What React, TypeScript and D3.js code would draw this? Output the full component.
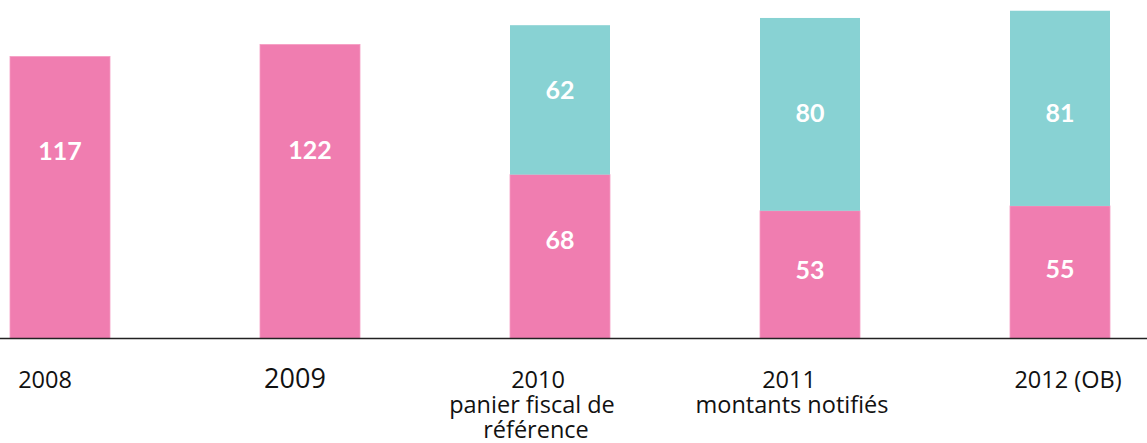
import React from "react";
import * as d3 from "d3";

const categories = ["2008", "2009", "2010", "2011", "2012 (OB)"];
const subtitleLine1 = ["", "", "panier fiscal de", "montants notifiés", ""];
const subtitleLine2 = ["", "", "référence", "", ""];
const pinkValues = [117, 122, 68, 53, 55];
const tealValues = [0, 0, 62, 80, 81];

// layout tweaks (pixels), not data
const pinkLabelDy = [-48, -42, -18, -6, -4];
const tealLabelDy = [0, 0, -11, -2, 4];
const tickDx = [-15, -15, -22, -21, 8];
const sub1Dx = [0, 0, -28, -18, 0];
const sub2Dx = [0, 0, -24, 0, 0];
const tickFont = [23.5, 27, 23.5, 23.5, 23.5];

const W = 1147;
const H = 443;
const BASE = 338.5;
const PINK = "#F07DB0";
const TEAL = "#88D2D3";

export default function App() {
  const x = d3
    .scaleBand<string>()
    .domain(categories)
    .range([0, 1120])
    .paddingInner(0.6)
    .paddingOuter(0.04);
  const y = d3.scaleLinear().domain([0, 140]).range([BASE, BASE - 140 * 2.41]);

  const valueFont = "Lato, 'Open Sans', sans-serif";
  const tickFontFamily = "'Open Sans', Lato, sans-serif";

  return (
    <div style={{ position: "absolute", left: 0, top: 0 }}>
      <svg width={W} height={H} style={{ display: "block", background: "#fff" }}>
        {categories.map((c, i) => {
          const x0 = x(c)!;
          const bw = x.bandwidth();
          const pTop = y(pinkValues[i]);
          const tTop = y(pinkValues[i] + tealValues[i]);
          return (
            <g key={c}>
              <rect x={x0} y={pTop} width={bw} height={BASE - pTop} fill={PINK} stroke="#F59CC3" strokeWidth={0.8} />
              {tealValues[i] > 0 && (
                <rect x={x0} y={tTop} width={bw} height={pTop - tTop} fill={TEAL} />
              )}
            </g>
          );
        })}
        <line x1={0} x2={W} y1={BASE} y2={BASE} stroke="#222" strokeWidth={1.5} />
        {categories.map((c, i) => {
          const cx = x(c)! + x.bandwidth() / 2;
          const pTop = y(pinkValues[i]);
          const tTop = y(pinkValues[i] + tealValues[i]);
          return (
            <g key={"l" + c} fontFamily={valueFont} fontWeight={700} fontSize={25} fill="#fff" textAnchor="middle">
              <text x={cx} y={(pTop + BASE) / 2 + pinkLabelDy[i]} dominantBaseline="central">
                {pinkValues[i]}
              </text>
              {tealValues[i] > 0 && (
                <text x={cx} y={(tTop + pTop) / 2 + tealLabelDy[i]} dominantBaseline="central">
                  {tealValues[i]}
                </text>
              )}
            </g>
          );
        })}
        {categories.map((c, i) => {
          const cx = x(c)! + x.bandwidth() / 2;
          return (
            <g key={"t" + c} fontFamily={tickFontFamily} fill="#111" textAnchor="middle">
              <text x={cx + tickDx[i]} y={388} fontSize={tickFont[i]}>
                {c}
              </text>
              {subtitleLine1[i] && (
                <text x={cx + sub1Dx[i]} y={413} fontSize={23.5}>
                  {subtitleLine1[i]}
                </text>
              )}
              {subtitleLine2[i] && (
                <text x={cx + sub2Dx[i]} y={438} fontSize={23.5}>
                  {subtitleLine2[i]}
                </text>
              )}
            </g>
          );
        })}
      </svg>
    </div>
  );
}
